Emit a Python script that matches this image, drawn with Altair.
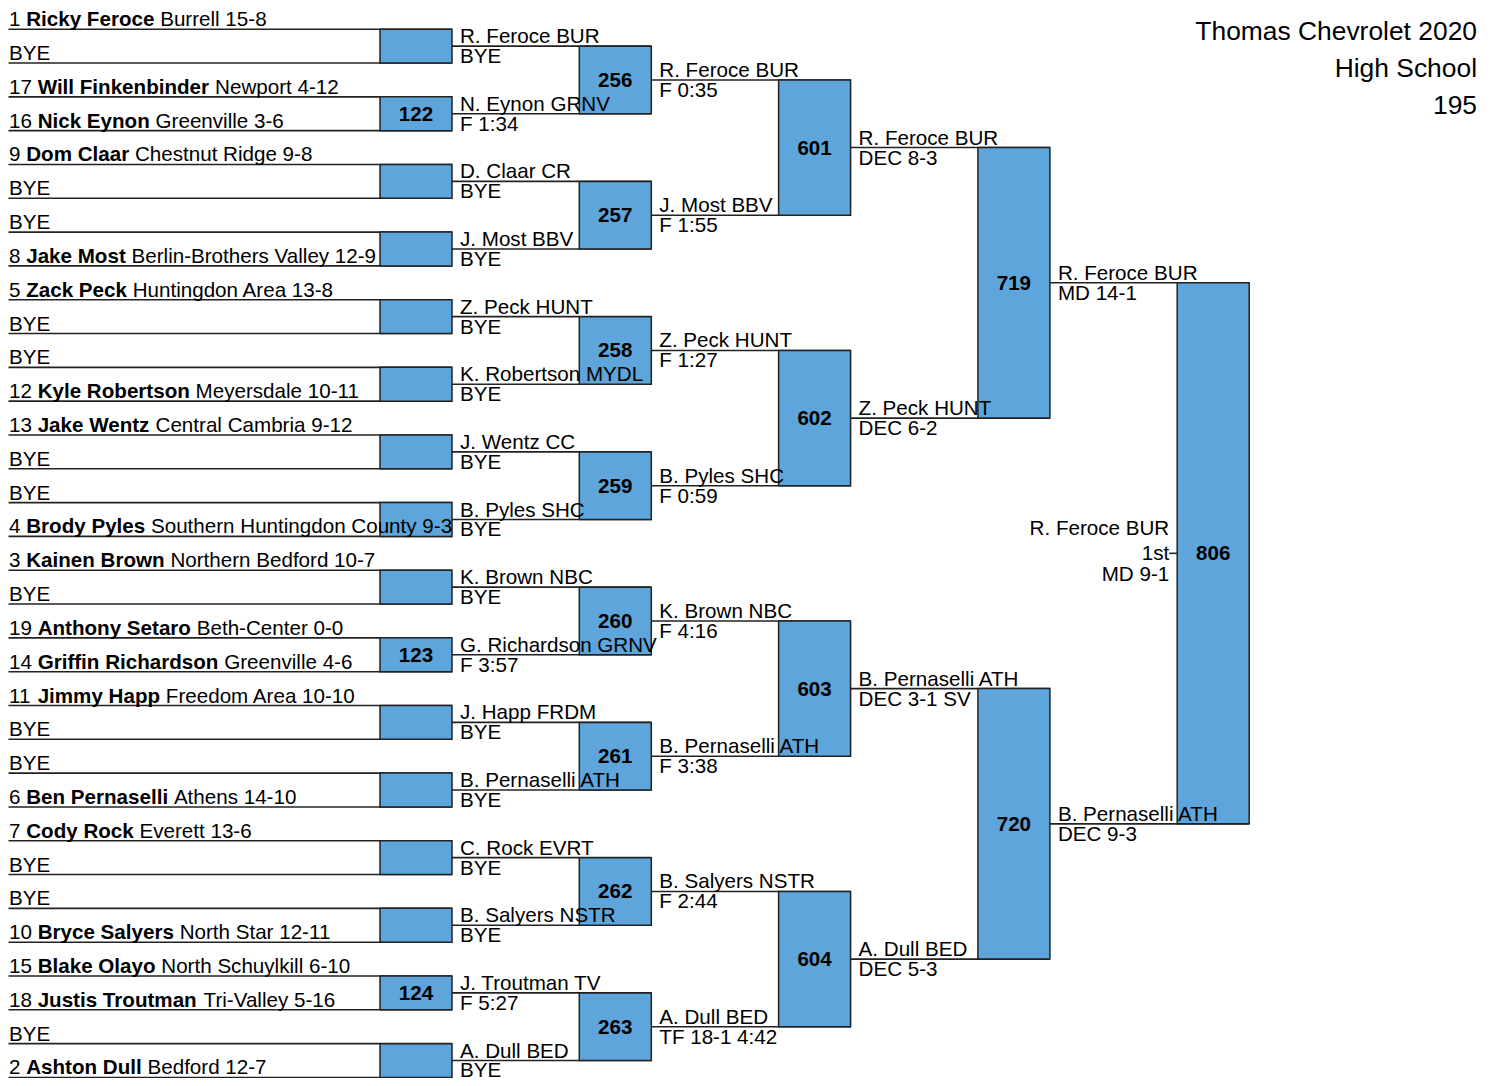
import altair as alt
import pandas as pd

# ---------------- data ----------------
TITLE_LINES = ["Thomas Chevrolet 2020", "High School", "195"]

SEEDS = ["1", None, "17", "16", "9", None, None, "8", "5", None, None, "12", "13", None, None, "4",
         "3", None, "19", "14", "11", None, None, "6", "7", None, None, "10", "15", "18", None, "2"]
NAMES = ["Ricky Feroce", None, "Will Finkenbinder", "Nick Eynon", "Dom Claar", None, None, "Jake Most",
         "Zack Peck", None, None, "Kyle Robertson", "Jake Wentz", None, None, "Brody Pyles",
         "Kainen Brown", None, "Anthony Setaro", "Griffin Richardson", "Jimmy Happ", None, None, "Ben Pernaselli",
         "Cody Rock", None, None, "Bryce Salyers", "Blake Olayo", "Justis Troutman", None, "Ashton Dull"]
TEAMS = ["Burrell 15-8", None, "Newport 4-12", "Greenville 3-6", "Chestnut Ridge 9-8", None, None,
         "Berlin-Brothers Valley 12-9", "Huntingdon Area 13-8", None, None, "Meyersdale 10-11",
         "Central Cambria 9-12", None, None, "Southern Huntingdon County 9-3", "Northern Bedford 10-7", None,
         "Beth-Center 0-0", "Greenville 4-6", "Freedom Area 10-10", None, None, "Athens 14-10",
         "Everett 13-6", None, None, "North Star 12-11", "North Schuylkill 6-10", "Tri-Valley 5-16", None,
         "Bedford 12-7"]
BYE = "BYE"

R2_WINNERS = ["R. Feroce BUR", "N. Eynon GRNV", "D. Claar CR", "J. Most BBV", "Z. Peck HUNT",
              "K. Robertson MYDL", "J. Wentz CC", "B. Pyles SHC", "K. Brown NBC", "G. Richardson GRNV",
              "J. Happ FRDM", "B. Pernaselli ATH", "C. Rock EVRT", "B. Salyers NSTR", "J. Troutman TV",
              "A. Dull BED"]
R2_RESULTS = ["BYE", "F 1:34", "BYE", "BYE", "BYE", "BYE", "BYE", "BYE", "BYE", "F 3:57",
              "BYE", "BYE", "BYE", "BYE", "F 5:27", "BYE"]
R3_WINNERS = ["R. Feroce BUR", "J. Most BBV", "Z. Peck HUNT", "B. Pyles SHC", "K. Brown NBC",
              "B. Pernaselli ATH", "B. Salyers NSTR", "A. Dull BED"]
R3_RESULTS = ["F 0:35", "F 1:55", "F 1:27", "F 0:59", "F 4:16", "F 3:38", "F 2:44", "TF 18-1 4:42"]
R4_WINNERS = ["R. Feroce BUR", "Z. Peck HUNT", "B. Pernaselli ATH", "A. Dull BED"]
R4_RESULTS = ["DEC 8-3", "DEC 6-2", "DEC 3-1 SV", "DEC 5-3"]
R5_WINNERS = ["R. Feroce BUR", "B. Pernaselli ATH"]
R5_RESULTS = ["MD 14-1", "DEC 9-3"]

BOUT_R1 = ["", "122", "", "", "", "", "", "", "", "123", "", "", "", "", "124", ""]
BOUT_R2 = ["256", "257", "258", "259", "260", "261", "262", "263"]
BOUT_R3 = ["601", "602", "603", "604"]
BOUT_R4 = ["719", "720"]
BOUT_R5 = ["806"]

CHAMPION = "R. Feroce BUR"
PLACE = "1st"
FINAL_RESULT = "MD 9-1"

# ---------------- layout / style ----------------
FONT = "Liberation Sans"
FS = 20.6
TITLE_FS = 26.4
W, H = 1482, 1070
X_DOM = [8, 8 + W]
Y_DOM = [8, 1082]
Y0, SP = 29.3, 33.94
LEFT = 8.5
RIGHT0, STEP, BOXW = 452.0, 199.3, 72.0
PAD = 8.0
ABOVE, BELOW = 3.0, 17.0
LINE_COL = "#222222"
BOX_FILL = "#5DA5DA"

# Arial / Helvetica advance widths (per 1000 em) for positioning bold runs
REG = {' ': 278, '-': 333, '.': 278, ':': 278, **{d: 556 for d in '0123456789'},
       'A': 667, 'B': 667, 'C': 722, 'D': 722, 'E': 667, 'F': 611, 'G': 778, 'H': 722, 'I': 278,
       'J': 500, 'K': 667, 'L': 556, 'M': 833, 'N': 722, 'O': 778, 'P': 667, 'Q': 778, 'R': 722,
       'S': 667, 'T': 611, 'U': 722, 'V': 667, 'W': 944, 'X': 667, 'Y': 667, 'Z': 611,
       'a': 556, 'b': 556, 'c': 500, 'd': 556, 'e': 556, 'f': 278, 'g': 556, 'h': 556, 'i': 222,
       'j': 222, 'k': 500, 'l': 222, 'm': 833, 'n': 556, 'o': 556, 'p': 556, 'q': 556, 'r': 333,
       's': 500, 't': 278, 'u': 556, 'v': 500, 'w': 722, 'x': 500, 'y': 500, 'z': 500}
BOLD = {' ': 278, '-': 333, '.': 278, ':': 333, **{d: 556 for d in '0123456789'},
        'A': 722, 'B': 722, 'C': 722, 'D': 722, 'E': 667, 'F': 611, 'G': 778, 'H': 722, 'I': 278,
        'J': 556, 'K': 722, 'L': 611, 'M': 833, 'N': 722, 'O': 778, 'P': 667, 'Q': 778, 'R': 722,
        'S': 667, 'T': 611, 'U': 722, 'V': 667, 'W': 944, 'X': 667, 'Y': 667, 'Z': 611,
        'a': 556, 'b': 611, 'c': 556, 'd': 611, 'e': 556, 'f': 333, 'g': 611, 'h': 611, 'i': 278,
        'j': 278, 'k': 556, 'l': 278, 'm': 889, 'n': 611, 'o': 611, 'p': 611, 'q': 611, 'r': 389,
        's': 556, 't': 333, 'u': 611, 'v': 556, 'w': 778, 'x': 556, 'y': 556, 'z': 500}


def tw(s, table):
    return sum(table.get(c, 556) for c in s) * FS / 1000.0


def line_y(r, j):
    n = 2 ** r
    return Y0 + SP * (n * j + (n - 1) / 2.0)


def right_edge(r):
    return RIGHT0 + STEP * r


# ---------------- build tables ----------------
lines, boxes = [], []
txt_left, txt_bold, txt_right, txt_num = [], [], [], []

# round 1 entrants
for i in range(32):
    y = line_y(0, i)
    lines.append({"x": LEFT, "x2": right_edge(0), "y": y})
    tx = LEFT + 0.5
    if NAMES[i] is None:
        txt_left.append({"x": tx, "y": y - ABOVE, "t": BYE})
    else:
        s1 = SEEDS[i] + " "
        txt_left.append({"x": tx, "y": y - ABOVE, "t": s1})
        x_name = tx + tw(s1, REG)
        txt_bold.append({"x": x_name, "y": y - ABOVE, "t": NAMES[i]})
        x_team = x_name + tw(NAMES[i], BOLD) + tw(" ", REG)
        txt_left.append({"x": x_team, "y": y - ABOVE, "t": TEAMS[i]})

bouts = [BOUT_R1, BOUT_R2, BOUT_R3, BOUT_R4, BOUT_R5]
for r, bl in enumerate(bouts):
    for k, num in enumerate(bl):
        ya, yb = line_y(r, 2 * k), line_y(r, 2 * k + 1)
        xr = right_edge(r)
        boxes.append({"x": xr - BOXW, "x2": xr, "y": ya, "y2": yb})
        if num:
            txt_num.append({"x": xr - BOXW / 2, "y": (ya + yb) / 2, "t": num})

rounds = [(R2_WINNERS, R2_RESULTS), (R3_WINNERS, R3_RESULTS), (R4_WINNERS, R4_RESULTS),
          (R5_WINNERS, R5_RESULTS)]
for ri, (wins, res) in enumerate(rounds):
    r = ri + 1
    for j, (wname, rtxt) in enumerate(zip(wins, res)):
        y = line_y(r, j)
        x0 = right_edge(r - 1)
        lines.append({"x": x0, "x2": right_edge(r), "y": y})
        txt_left.append({"x": x0 + PAD, "y": y - ABOVE, "t": wname})
        txt_left.append({"x": x0 + PAD, "y": y + BELOW, "t": rtxt})

# champion
fb = boxes[-1]
cy = (fb["y"] + fb["y2"]) / 2
cx = fb["x"]
lines.append({"x": cx - 8, "x2": cx, "y": cy})
txt_right.append({"x": cx - 8, "y": cy - 18.5, "t": CHAMPION})
txt_right.append({"x": cx - 8, "y": cy + 7, "t": PLACE})
txt_right.append({"x": cx - 8, "y": cy + 27.5, "t": FINAL_RESULT})

title_rows = [{"x": 1477, "y": 40 + 37 * i, "t": t} for i, t in enumerate(TITLE_LINES)]

# ---------------- chart ----------------
xs = alt.Scale(domain=X_DOM, nice=False, zero=False)
ys = alt.Scale(domain=Y_DOM, nice=False, zero=False, reverse=True)
X = lambda f: alt.X(f, type="quantitative", scale=xs, axis=None)
Y = lambda f: alt.Y(f, type="quantitative", scale=ys, axis=None)

rules = alt.Chart(pd.DataFrame(lines)).mark_rule(color=LINE_COL, strokeWidth=1.6).encode(
    x=X("x"), x2="x2", y=Y("y"))
rects = alt.Chart(pd.DataFrame(boxes)).mark_rect(fill=BOX_FILL, stroke=LINE_COL, strokeWidth=1.5).encode(
    x=X("x"), x2="x2", y=Y("y"), y2="y2")


def text_layer(rows, align, weight, size):
    return alt.Chart(pd.DataFrame(rows)).mark_text(
        align=align, baseline="alphabetic", font=FONT, fontSize=size, fontWeight=weight, color="#000000"
    ).encode(x=X("x"), y=Y("y"), text="t:N")


t1 = text_layer(txt_left, "left", "normal", FS)
t2 = text_layer(txt_bold, "left", "bold", FS)
t3 = text_layer(txt_right, "right", "normal", FS)
t4 = alt.Chart(pd.DataFrame(txt_num)).mark_text(
    align="center", baseline="middle", font=FONT, fontSize=FS, fontWeight="bold", color="#000000", dy=1
).encode(x=X("x"), y=Y("y"), text="t:N")
t5 = text_layer(title_rows, "right", "normal", TITLE_FS)

chart = alt.layer(rules, rects, t1, t2, t3, t4, t5).properties(
    width=W, height=H, padding=0, autosize=alt.AutoSizeParams(type="none")
).configure_view(stroke=None)

chart.save("out.html", embed_options={"renderer": "svg", "actions": False})
